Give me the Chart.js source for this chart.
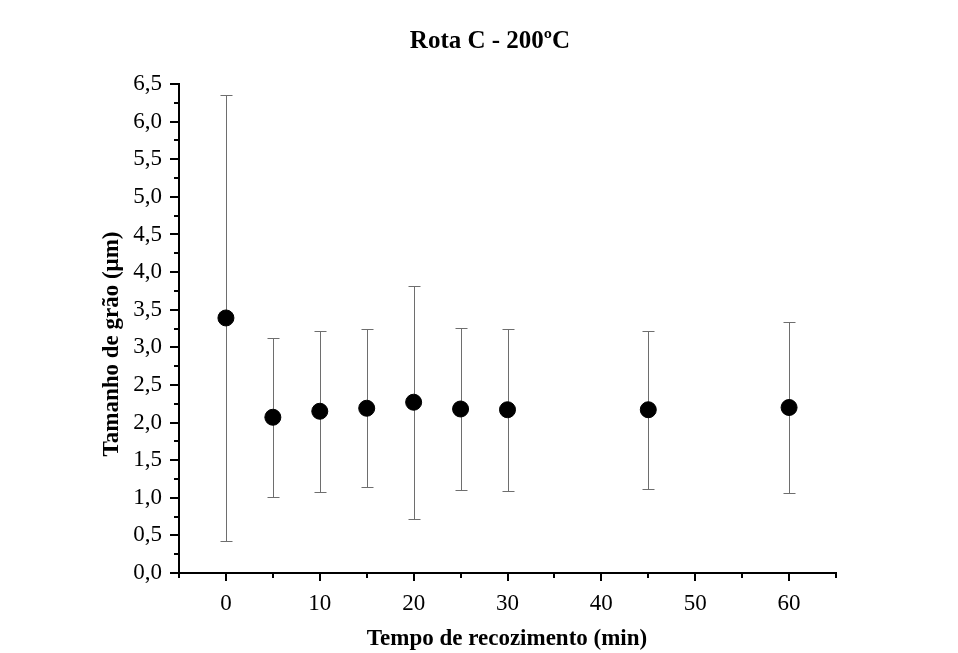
<!DOCTYPE html>
<html>
<head>
<meta charset="utf-8">
<script src="https://cdn.jsdelivr.net/npm/chart.js@4.4.1/dist/chart.umd.min.js"></script>
<style>
  html, body { margin: 0; padding: 0; background: #fff; }
  #wrap { width: 958px; height: 653px; }
</style>
</head>
<body>
<div id="wrap"><canvas id="myChart" width="958" height="653"></canvas></div>
<script>
// annealing time (min), mean grain size (um) and its error bar (+/-)
var times = [0, 5, 10, 15, 20, 25, 30, 45, 60];
var grainSize = [3.39, 2.07, 2.15, 2.19, 2.27, 2.18, 2.17, 2.17, 2.20];
var grainErr = [2.97, 1.06, 1.07, 1.05, 1.55, 1.08, 1.08, 1.05, 1.13];
var xTickLabels = [0, 10, 20, 30, 40, 50, 60];
var yTickLabels = ["0,0","0,5","1,0","1,5","2,0","2,5","3,0","3,5","4,0","4,5","5,0","5,5","6,0","6,5"];

var serif = '"Liberation Serif", "Times New Roman", serif';

var points = times.map(function(t, i){ return {x: t, y: grainSize[i]}; });

// error bars drawn behind the markers
var errorBars = {
  id: 'errorBars',
  beforeDatasetsDraw: function(chart){
    var c = chart.ctx, xs = chart.scales.x, ys = chart.scales.y;
    c.save();
    c.strokeStyle = '#6e6e6e';
    c.lineWidth = 1;
    times.forEach(function(t, i){
      var px = Math.round(xs.getPixelForValue(t)) + 0.5;
      var top = Math.round(ys.getPixelForValue(grainSize[i] + grainErr[i])) + 0.5;
      var bot = Math.round(ys.getPixelForValue(grainSize[i] - grainErr[i])) + 0.5;
      c.beginPath();
      c.moveTo(px, top); c.lineTo(px, bot);
      c.moveTo(px - 6, top); c.lineTo(px + 6, top);
      c.moveTo(px - 6, bot); c.lineTo(px + 6, bot);
      c.stroke();
    });
    c.restore();
  }
};

// ticks (major / minor) and the titles
var decor = {
  id: 'decor',
  afterDraw: function(chart){
    var c = chart.ctx, xs = chart.scales.x, ys = chart.scales.y, a = chart.chartArea;
    c.save();
    c.strokeStyle = '#000';
    c.lineWidth = 2;
    c.beginPath();
    for (var v = -5; v <= 65; v += 5) {
      var px = Math.round(xs.getPixelForValue(v));
      var len = (v % 10 === 0) ? 8 : 5;
      c.moveTo(px, a.bottom); c.lineTo(px, a.bottom + len);
    }
    for (var k = 0; k <= 26; k++) {
      var py = Math.round(ys.getPixelForValue(k * 0.25));
      var l2 = (k % 2 === 0) ? 9 : 5;
      c.moveTo(a.left, py); c.lineTo(a.left - l2, py);
    }
    c.stroke();

    c.fillStyle = '#000';
    c.textAlign = 'center';
    c.textBaseline = 'middle';
    c.font = 'bold 25px ' + serif;
    c.fillText('Rota C - 200ºC', 490, 42);
    c.font = 'bold 23px ' + serif;
    c.fillText('Tempo de recozimento (min)', 507, 639);
    c.translate(112, 344);
    c.rotate(-Math.PI / 2);
    c.fillText('Tamanho de grão (\u03bcm)', 0, 0);
    c.restore();
  }
};

var ctx = document.getElementById('myChart').getContext('2d');
var myChart = new Chart(ctx, {
  type: 'scatter',
  data: {
    datasets: [{
      data: points,
      backgroundColor: '#000',
      borderColor: '#000',
      pointRadius: 8,
      pointHoverRadius: 8
    }]
  },
  options: {
    responsive: false,
    animation: false,
    events: [],
    layout: { padding: { left: 0, right: 122, top: 84, bottom: 0 } },
    plugins: { legend: { display: false }, tooltip: { enabled: false } },
    scales: {
      x: {
        type: 'linear',
        min: -5,
        max: 65,
        afterFit: function(s){ s.height = 80; },
        afterBuildTicks: function(s){
          s.ticks = xTickLabels.map(function(v){ return {value: v}; });
        },
        grid: { display: false },
        border: { display: true, color: '#000', width: 2 },
        ticks: {
          color: '#000',
          padding: 9,
          maxRotation: 0,
          font: { family: serif, size: 23 },
          callback: function(v){ return String(v); }
        }
      },
      y: {
        min: 0,
        max: 6.5,
        afterFit: function(s){ s.width = 179; },
        afterBuildTicks: function(s){
          s.ticks = yTickLabels.map(function(t, i){ return {value: i * 0.5}; });
        },
        grid: { display: false },
        border: { display: true, color: '#000', width: 2 },
        ticks: {
          color: '#000',
          padding: 9,
          font: { family: serif, size: 23 },
          callback: function(v){ return yTickLabels[Math.round(v * 2)]; }
        }
      }
    }
  },
  plugins: [errorBars, decor]
});
</script>
</body>
</html>
